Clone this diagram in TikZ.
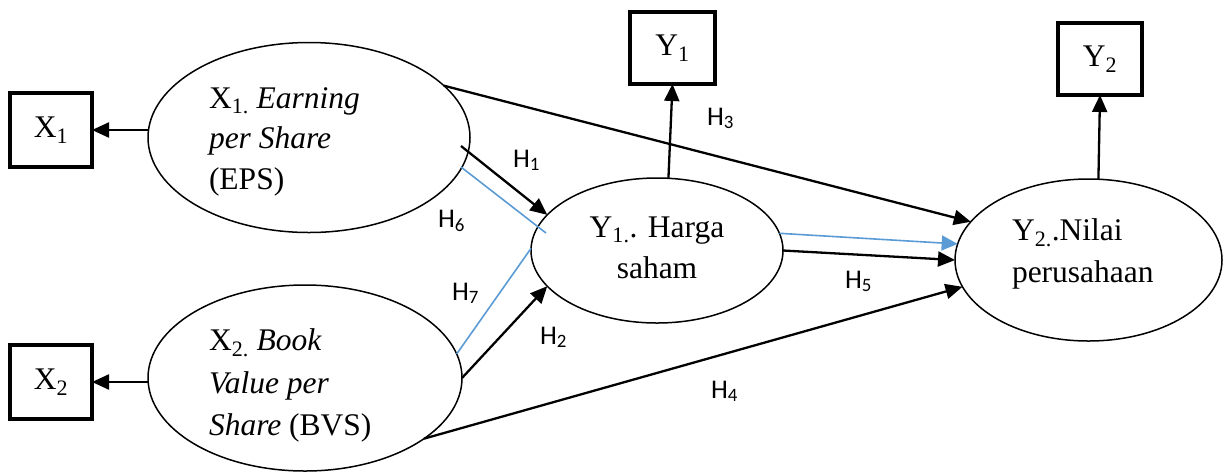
\documentclass[tikz,border=0pt]{standalone}
\usepackage{fontspec}
\setmainfont{Liberation Serif}
\newfontfamily\hfont{Carlito}
\usetikzlibrary{arrows.meta,shapes.geometric}
\definecolor{pathblue}{RGB}{91,155,213}
\begin{document}
\begin{tikzpicture}[x=1pt,y=-1pt,
  every node/.style={inner sep=0pt,outer sep=0pt},
  txt/.style={font=\fontsize{31.5}{40}\selectfont},
  lline/.style={txt,anchor=base west},
  cline/.style={txt,anchor=base},
  hlab/.style={font=\hfont\fontsize{27}{30}\selectfont,anchor=base west},
  latent/.style={draw,ellipse,line width=1.5pt},
  indic/.style={draw,rectangle,line width=4pt,txt},
  arr/.style={line width=2.3pt,-{Triangle[length=17pt,width=15pt]}},
  blue/.style={draw=pathblue,line width=1.6pt},
  bluearr/.style={blue,-{Triangle[length=16pt,width=15pt]},fill=pathblue}
]
\useasboundingbox (0,0) rectangle (1223,475);

% latent constructs
\node[latent,minimum width=322pt,minimum height=190pt] (e1) at (309,137.5) {};
\node[latent,minimum width=314pt,minimum height=186pt] (e2) at (305,378) {};
\node[latent,minimum width=252pt,minimum height=145pt] (y1e) at (657,250.5) {};
\node[latent,minimum width=267pt,minimum height=162pt] (y2e) at (1088.5,260) {};

% indicators
\node[indic,minimum width=82pt,minimum height=74pt] (bx1) at (51,130) {X\textsubscript{1}};
\node[indic,minimum width=82pt,minimum height=74pt] (bx2) at (51,382) {X\textsubscript{2}};
\node[indic,minimum width=85pt,minimum height=72pt] (by1) at (672.5,48) {Y\textsubscript{1}};
\node[indic,minimum width=84pt,minimum height=72pt] (by2) at (1100,59) {Y\textsubscript{2}};

% construct texts
\node[lline] (x1a) at (209,108) {X\textsubscript{1.} \textit{Earning}};
\node[lline] (x1b) at (209,148) {\textit{per Share}};
\node[lline] (x1c) at (209,189) {(EPS)};
\node[lline] (x2a) at (209,350) {X\textsubscript{2.} \textit{Book}};
\node[lline] (x2b) at (209,393) {\textit{Value per}};
\node[lline] (x2c) at (209,435) {\textit{Share} (BVS)};
\node[cline] (y1a) at (657,237) {Y\textsubscript{1.}. Harga};
\node[cline] (y1b) at (657,278) {saham};
\node[lline] (y2a) at (1012,240) {Y\textsubscript{2.}.Nilai};
\node[lline] (y2b) at (1012,282) {perusahaan};

% free ends of the paths that begin or end inside a construct
\coordinate (h1s) at (461,146);
\coordinate (h6s) at (461,167);
\coordinate (h6e) at (546,233);

% measurement arrows
\draw[arr] (bx1.east -| e1.west) -- (bx1.east);
\draw[arr] (bx2.east -| e2.west) -- (bx2.east);
\draw[arr] (y1e.81) -- (by1.south);
\draw[arr] (y2e.83) -- (by2.south);

% structural paths
\draw[arr] (h1s) -- (y1e.162);
\draw[arr] (e2.east) -- (y1e.198);
\draw[arr] (e1.21) -- (y2e.162);
\draw[arr] (e2.-27) -- (y2e.192);
\draw[arr] (y1e.east) -- (y2e.west);

% mediated paths
\draw[blue] (h6s) -- (h6e);
\draw[blue] (y1e.179) -- (e2.9);
\draw[bluearr] (y1e.8) -- (y2e.173);

% hypothesis labels
\node[hlab] (h1) at (513,167) {H\textsubscript{1}};
\node[hlab] (h2) at (540,344) {H\textsubscript{2}};
\node[hlab] (h3) at (707,125) {H\textsubscript{3}};
\node[hlab] (h4) at (711,398) {H\textsubscript{4}};
\node[hlab] (h5) at (845,288) {H\textsubscript{5}};
\node[hlab] (h6) at (438,227) {H\textsubscript{6}};
\node[hlab] (h7) at (452,300) {H\textsubscript{7}};
\end{tikzpicture}
\end{document}
